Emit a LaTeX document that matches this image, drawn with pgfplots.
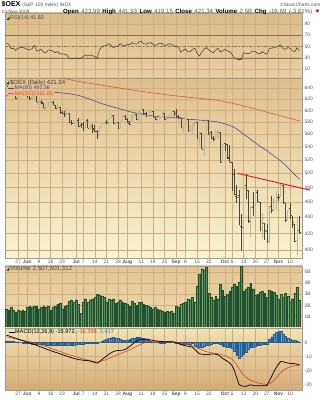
\documentclass[border=0pt]{standalone}
\usepackage{fontspec}
\setmainfont{Liberation Sans}
\usepackage{pgfplots}
\usepackage{pgfplotstable}
\pgfplotsset{compat=1.18}

\definecolor{rsitop}{HTML}{DCBC88}
\definecolor{rsibot}{HTML}{E8D0A2}
\definecolor{prtop}{HTML}{DFBF8B}
\definecolor{prbot}{HTML}{F8F3CE}
\definecolor{voltop}{HTML}{E3C591}
\definecolor{volbot}{HTML}{EEDBAE}
\definecolor{mactop}{HTML}{F1E2B2}
\definecolor{macbot}{HTML}{D6AB76}
\definecolor{gridc}{HTML}{CBB086}
\definecolor{bordc}{HTML}{9C9C9C}
\definecolor{labc}{HTML}{555555}
\definecolor{refc}{HTML}{8C7650}
\definecolor{rsibrown}{HTML}{8A4526}
\definecolor{barc}{HTML}{4A4A40}
\definecolor{barl}{HTML}{BDB795}
\definecolor{ma50c}{HTML}{4646A6}
\definecolor{ma200c}{HTML}{F04A3C}
\definecolor{trendc}{HTML}{E5102A}
\definecolor{volc}{HTML}{4F8D5C}
\definecolor{vold}{HTML}{25502F}
\definecolor{histc}{HTML}{4B93C9}
\definecolor{histd}{HTML}{2A5E8E}
\definecolor{sigc}{HTML}{E8321E}

\newcommand\tfont{\fontsize{4.9}{5.5}\selectfont}

\pgfdeclareplotmark{otick}{\pgfpathmoveto{\pgfqpoint{-1.3pt}{0pt}}\pgfpathlineto{\pgfqpoint{0pt}{0pt}}\pgfusepathqstroke}
\pgfdeclareplotmark{ctick}{\pgfpathmoveto{\pgfqpoint{0pt}{0pt}}\pgfpathlineto{\pgfqpoint{1.3pt}{0pt}}\pgfusepathqstroke}
\pgfdeclareplotmark{nothing}{}

\pgfplotstableread{
i o h l c u
0 644.2 651.0 642.6 644.8 1
1 643.9 643.9 636.9 638.9 0
2 639.2 641.4 627.7 628.6 0
3 628.6 632.4 628.4 630.3 1
4 629.3 629.3 620.9 621.9 0
5 621.9 627.1 620.6 626.2 1
6 626.7 628.7 623.0 628.6 1
7 628.6 635.6 627.6 632.0 1
8 632.1 634.8 631.9 633.0 1
9 632.3 632.3 622.8 626.3 0
10 626.7 629.7 619.3 622.7 0
11 622.1 627.5 620.0 622.5 1
12 622.6 635.1 620.7 634.7 1
13 632.8 632.8 614.7 615.0 0
14 615.1 619.5 610.5 615.5 1
15 614.3 617.8 610.9 614.0 0
16 613.4 613.4 603.6 603.6 0
17 603.8 611.6 601.7 605.6 1
18 606.5 614.7 606.4 614.7 1
19 614.2 616.8 611.1 614.8 1
20 615.0 617.7 610.4 610.6 0
21 610.0 610.0 602.7 604.7 0
22 604.3 609.2 601.3 606.9 1
23 606.1 606.1 594.2 595.7 0
24 596.5 598.4 594.5 595.7 0
25 595.4 599.4 589.6 594.1 0
26 594.2 603.7 594.2 597.5 1
27 595.0 595.0 580.0 580.0 0
28 580.2 582.9 574.9 577.8 0
29 577.7 583.2 576.3 578.6 1
30 578.3 582.2 571.1 582.1 1
31 583.8 586.7 572.7 572.7 0
32 574.6 578.3 569.7 574.6 0
33 575.9 580.9 565.8 571.0 0
34 572.1 582.3 568.0 582.1 1
35 583.2 585.0 570.0 570.1 0
36 571.0 576.7 567.1 574.7 1
37 573.2 577.1 562.5 568.9 0
38 570.5 576.0 562.9 564.4 0
39 564.3 567.8 552.2 558.9 0
40 558.8 572.9 557.2 572.9 1
41 573.3 580.7 571.0 579.7 1
42 578.8 580.6 575.8 579.9 1
43 580.4 583.1 577.6 579.6 0
44 578.3 587.6 574.4 587.4 1
45 588.3 594.0 587.0 589.8 1
46 591.6 591.6 576.9 577.4 0
47 577.9 582.3 577.1 579.8 1
48 579.8 580.9 569.1 569.1 0
49 570.0 582.3 570.0 582.3 1
50 582.9 592.1 582.9 592.1 1
51 590.7 592.3 583.6 584.3 0
52 585.8 586.3 578.9 581.6 0
53 578.4 581.7 575.7 576.4 0
54 579.1 593.0 579.0 593.0 1
55 592.6 596.1 588.9 595.0 1
56 593.7 593.7 583.5 584.3 0
57 584.4 599.0 582.5 598.2 1
58 597.4 606.0 596.4 602.4 1
59 602.2 602.2 593.3 595.2 0
60 594.7 597.2 588.4 593.4 0
61 591.7 600.0 589.2 596.7 1
62 597.1 600.9 595.7 599.1 1
63 599.1 600.0 588.2 590.1 0
64 589.2 589.2 582.9 584.6 0
65 584.9 588.9 582.1 588.2 1
66 586.6 591.5 583.9 589.7 1
67 589.6 597.0 589.6 596.4 1
68 595.6 595.6 583.7 584.6 0
69 584.7 588.7 583.0 586.8 1
70 586.7 593.1 586.1 591.5 1
71 592.5 600.3 592.5 600.3 1
72 598.3 598.8 592.0 592.0 0
73 595.0 602.0 587.8 590.3 0
74 589.8 591.6 584.7 589.1 0
75 587.6 587.6 569.6 571.4 0
76 569.7 575.1 562.3 573.9 1
77 577.3 588.8 576.2 585.7 1
78 585.8 586.1 565.7 565.7 0
79 567.1 574.7 564.4 569.2 1
80 567.8 577.5 559.7 577.1 1
81 578.1 582.4 572.5 580.8 1
82 580.4 580.4 553.4 553.4 0
83 551.4 563.7 542.6 563.1 1
84 561.6 561.6 536.3 536.6 0
85 536.9 561.9 525.9 559.8 1
86 562.9 587.0 562.9 582.4 1
87 582.5 582.5 559.4 560.1 0
88 562.7 566.0 553.5 553.7 0
89 554.0 558.0 549.8 552.6 0
90 553.6 568.5 553.6 563.5 1
91 561.3 566.6 553.4 565.4 1
92 563.4 563.4 515.6 515.6 0
93 519.0 544.3 519.0 543.5 1
94 544.8 546.2 533.9 543.4 0
95 544.3 544.3 521.2 522.6 0
96 524.1 542.3 516.1 516.6 0
97 517.0 517.0 474.8 497.8 0
98 499.2 506.4 470.2 470.2 0
99 467.7 483.0 459.3 465.9 0
100 468.5 476.5 431.0 431.3 0
101 428.6 444.8 398.9 427.1 0
102 435.4 480.3 435.4 478.6 1
103 482.8 499.2 464.7 477.0 0
104 476.4 476.4 433.0 434.8 0
105 436.6 454.9 415.6 454.3 1
106 453.2 473.6 441.9 452.4 0
107 455.7 475.9 455.7 475.9 1
108 473.5 475.9 460.1 461.3 0
109 459.7 459.7 423.0 433.2 0
110 434.3 445.7 414.6 438.6 1
111 432.4 432.9 412.0 423.5 0
112 422.3 431.7 408.5 410.0 0
113 410.0 454.3 408.3 454.3 1
114 453.8 468.5 445.5 449.2 0
115 453.7 465.2 448.5 460.8 1
116 460.3 475.5 449.6 467.9 1
117 466.9 470.2 462.0 465.8 0
118 468.2 485.6 468.2 484.8 1
119 482.9 482.9 457.9 459.3 0
120 459.1 459.1 433.7 436.2 0
121 437.4 449.0 436.9 448.7 1
122 451.5 458.9 437.4 443.1 0
123 442.1 442.1 426.5 433.3 0
124 430.6 430.6 409.9 410.8 0
125 411.2 440.1 394.6 438.0 1
126 423.99 441.93 419.15 421.34 0
}\ohlc

\pgfplotstableread{
i v
0 626
6 630
13 633
20 633
27 630
31 627
36 620
41 612
47 605
53 598
59 593
64 590
70 588
75 587
78 585
82 584
86 582.5
90 581
92 579.5
95 576
97 573
99 569
101 563
104 555
106 549
109 541
112 534
115 526
118 518
120 512
122 505
124 498
126 491.4
}\maA

\pgfplotstableread{
i v
23.8 659.5
32 652
40 646.5
50 639.5
62 632
72 626.5
83 621.6
90 618.5
97 613
104 606
108 602
112 597
118 591
126 582
}\maB

\pgfplotstableread{
i r
0 56
1 54
2 46
3 47
4 43
5 47
6 48
7 49
8 47
9 45
10 44
11 46
12 52
13 42
14 43
15 45
16 40
17 39
18 44
19 43
20 42
21 39
22 41
23 37
24 37
25 36
26 35
27 29
28 28
29 28.5
30 29.5
31 28
32 29.5
33 32
34 35
35 33
36 35
37 34
38 32
39 29
40 44
41 49
42 51
43 52
44 55
45 52
46 48
47 50
48 51
49 55
50 52
51 51
52 54
53 53
54 57
55 55
56 54
57 58
58 59
59 55
60 54
61 56
62 57
63 54
64 52
65 54
66 56
67 55
68 51
69 53
70 55
71 54
72 51
73 50
74 49
75 40
76 43
77 46
78 40
79 41
80 45
81 47
82 38
83 33
84 40
85 45
86 48
87 44
88 41
89 39
90 44
91 47
92 40
93 43
94 45
95 42
96 41
97 36
98 30
99 28
100 26
101 27
102 39
103 38
104 37
105 39
106 42
107 41
108 38
109 37
110 41
111 38
112 36
113 46
114 47
115 48
116 49
117 51
118 53
119 46
120 45
121 48
122 47
123 42
124 41
125 48
126 41.82
}\rsi

\pgfplotstableread{
i v
0 1.7
1 1.6
2 1.8
3 1.6
4 1.4
5 1.6
6 1.5
7 1.6
8 1.5
9 1.8
10 1.9
11 1.8
12 1.9
13 1.9
14 1.7
15 1.8
16 1.9
17 1.8
18 1.9
19 1.6
20 1.8
21 1.9
22 2.1
23 2.2
24 1.7
25 1.9
26 2.0
27 2.4
28 2.5
29 2.3
30 2.5
31 2.1
32 1.3
33 2.3
34 2.6
35 2.3
36 2.5
37 2.6
38 2.7
39 3.0
40 2.9
41 2.8
42 2.7
43 2.3
44 2.6
45 2.5
46 2.6
47 2.2
48 2.3
49 2.5
50 2.3
51 2.2
52 2.1
53 1.9
54 2.4
55 2.2
56 2.0
57 2.3
58 2.3
59 2.1
60 2.0
61 1.9
62 1.8
63 1.7
64 1.8
65 1.7
66 1.6
67 1.5
68 1.4
69 1.5
70 1.4
71 1.5
72 1.3
73 1.9
74 1.8
75 2.1
76 2.2
77 2.3
78 2.6
79 2.5
80 2.7
81 2.3
82 3.7
83 4.8
84 5.3
85 5.2
86 5.4
87 3.1
88 2.7
89 2.5
90 2.8
91 2.6
92 3.9
93 3.4
94 2.8
95 3.0
96 3.3
97 3.6
98 3.9
99 3.7
100 4.1
101 5.5
102 3.3
103 3.5
104 3.6
105 4.0
106 3.5
107 2.9
108 3.0
109 3.2
110 3.3
111 3.1
112 2.7
113 3.4
114 3.3
115 3.2
116 2.9
117 2.6
118 3.0
119 2.7
120 3.1
121 2.8
122 2.3
123 2.6
124 3.1
125 3.6
126 2.51
}\vol

\pgfplotstableread{
i m s h
0 5.2 4.0 1.2
1 4.7 3.7 1.0
2 4.1 3.3 0.8
3 3.5 2.9 0.6
4 3.0 2.6 0.4
5 2.4 2.2 0.2
6 1.8 1.8 0.0
7 1.3 1.5 -0.2
8 0.8 1.1 -0.3
9 0.0 0.8 -0.8
10 -0.4 0.4 -0.8
11 -0.9 0.1 -1.0
12 -1.5 -0.3 -1.2
13 -2.1 -0.9 -1.2
14 -2.8 -1.4 -1.4
15 -3.4 -2.0 -1.4
16 -4.0 -2.5 -1.5
17 -4.7 -3.0 -1.7
18 -5.3 -3.6 -1.7
19 -5.9 -4.2 -1.7
20 -6.4 -4.8 -1.6
21 -7.0 -5.3 -1.7
22 -7.5 -5.9 -1.6
23 -8.1 -6.4 -1.7
24 -8.7 -7.0 -1.7
25 -9.2 -7.6 -1.6
26 -9.8 -8.2 -1.6
27 -10.4 -8.8 -1.6
28 -10.9 -9.3 -1.6
29 -11.4 -9.8 -1.6
30 -11.8 -10.3 -1.5
31 -12.3 -10.8 -1.5
32 -12.5 -11.3 -1.2
33 -12.7 -11.8 -0.9
34 -12.9 -12.2 -0.7
35 -13.0 -12.6 -0.4
36 -13.3 -13.0 -0.3
37 -13.8 -13.4 -0.4
38 -14.3 -13.8 -0.5
39 -14.8 -14.0 -0.8
40 -13.8 -13.8 0.0
41 -12.4 -13.3 0.9
42 -11.0 -12.8 1.8
43 -9.8 -12.2 2.4
44 -8.5 -11.5 3.0
45 -7.4 -10.8 3.4
46 -6.6 -10.1 3.5
47 -6.0 -9.4 3.4
48 -5.8 -8.7 2.9
49 -5.7 -8.0 2.3
50 -5.6 -7.3 1.7
51 -5.0 -6.7 1.7
52 -4.0 -6.0 2.0
53 -2.8 -5.2 2.4
54 -1.5 -4.4 2.9
55 -0.3 -3.6 3.3
56 0.9 -2.8 3.7
57 1.8 -2.0 3.8
58 2.1 -1.2 3.3
59 2.3 -0.5 2.8
60 2.4 0.1 2.3
61 2.2 0.5 1.7
62 1.8 0.8 1.0
63 1.4 1.0 0.4
64 1.1 1.0 0.1
65 0.9 1.0 -0.1
66 0.7 0.9 -0.2
67 0.6 0.8 -0.2
68 0.5 0.7 -0.2
69 0.5 0.6 -0.1
70 0.5 0.6 -0.1
71 0.5 0.5 0.0
72 0.3 0.4 -0.1
73 -0.2 0.2 -0.4
74 -0.8 -0.1 -0.7
75 -1.5 -0.5 -1.0
76 -2.0 -0.9 -1.1
77 -2.4 -1.3 -1.1
78 -2.7 -1.7 -1.0
79 -3.0 -2.1 -0.9
80 -3.3 -2.5 -0.8
81 -5.0 -3.0 -2.0
82 -6.6 -3.7 -2.9
83 -8.1 -4.6 -3.5
84 -8.4 -5.3 -3.1
85 -8.6 -6.0 -2.6
86 -8.8 -6.6 -2.2
87 -8.6 -7.0 -1.6
88 -8.3 -7.4 -0.9
89 -8.2 -7.6 -0.6
90 -8.5 -7.9 -0.6
91 -8.8 -8.1 -0.7
92 -10.0 -8.5 -1.5
93 -11.5 -9.0 -2.5
94 -12.5 -9.6 -2.9
95 -13.5 -10.3 -3.2
96 -14.5 -11.0 -3.5
97 -16.5 -12.1 -4.4
98 -20.0 -13.7 -6.3
99 -25.0 -16.0 -9.0
100 -30.0 -18.8 -11.2
101 -31.0 -21.2 -9.8
102 -31.3 -23.2 -8.1
103 -31.4 -24.8 -6.6
104 -30.8 -26.0 -4.8
105 -30.3 -26.9 -3.4
106 -30.6 -27.6 -3.0
107 -31.0 -28.3 -2.7
108 -31.0 -28.8 -2.2
109 -31.0 -29.2 -1.8
110 -31.0 -29.6 -1.4
111 -31.0 -29.9 -1.1
112 -31.0 -30.1 -0.9
113 -27.5 -29.6 2.1
114 -24.5 -28.6 4.1
115 -21.0 -27.1 6.1
116 -18.0 -25.3 7.3
117 -15.5 -23.3 7.8
118 -13.6 -21.4 7.8
119 -13.9 -20.0 6.1
120 -14.4 -18.9 4.5
121 -14.7 -18.1 3.4
122 -15.0 -17.5 2.5
123 -15.1 -17.0 1.9
124 -15.2 -16.7 1.5
125 -15.5 -16.5 1.0
126 -15.97 -16.40 0.42
}\macd

\pgfplotsset{
  panel/.style={
    scale only axis, width=297pt, xmin=-0.6, xmax=127.1,
    anchor=north west,
    axis line style={draw=bordc, line width=0.4pt},
    xtick={5,9,14,19,24,30,33,38,43,48,52,58,63,68,73,77,82,87,94,97,102,107,112,117,122},
    xticklabels={},
    xmajorgrids, ymajorgrids,
    grid style={draw=gridc, line width=0.35pt},
    major tick length=0pt,
    yticklabel pos=right,
    tick label style={font=\tfont, text=labc},
    yticklabel style={anchor=west, inner sep=0pt, xshift=2.5pt},
    xticklabel style={anchor=north, inner sep=0pt, yshift=-2pt},
  },
  dates/.style={xticklabels={27,\textbf{Jun},9,16,23,\textbf{Jul},7,14,21,28,\textbf{Aug},11,18,25,\textbf{Sep},8,15,22,\textbf{Oct},6,13,20,27,\textbf{Nov},10}},
}

\begin{document}
\begin{tikzpicture}[x=1pt,y=1pt]
\path[use as bounding box] (0,0) rectangle (322,400);
\fill[white] (0,0) rectangle (322,400);

% ---------- RSI ----------
\begin{axis}[panel, at={(5pt,387pt)}, height=65pt,
  ymin=-6, ymax=109.6, ytick={10,30,50,70,90}, yticklabels={10,30,50,70,90},
  axis background/.style={top color=rsitop, bottom color=rsibot}]
\addplot[fill=rsibrown, draw=none] table[x=i, y expr={min(\thisrow{r},30)}] {\rsi};
\addplot[refc, line width=0.5pt] coordinates {(-0.6,70) (127.1,70)};
\addplot[refc, line width=0.5pt] coordinates {(-0.6,30) (127.1,30)};
\addplot[refc, line width=0.4pt, dash dot] coordinates {(-0.6,50) (127.1,50)};
\addplot[black!80, line width=0.45pt] table[x=i,y=r] {\rsi};
\end{axis}

% ---------- Price ----------
\begin{axis}[panel, dates, at={(5pt,322pt)}, height=180pt,
  ymode=log, ymin=391, ymax=659.5, clip=false,
  ytick={400,420,440,460,480,500,520,540,560,580,600,620,640},
  yticklabels={400,420,440,460,480,500,520,540,560,580,600,620,640},
  axis background/.style={top color=prtop, bottom color=prbot}]
\addplot[ma200c, line width=0.55pt] table[x=i,y=v] {\maB};
\addplot[ma50c, line width=0.55pt] table[x=i,y=v] {\maA};
% up bars (light)
\addplot[only marks, mark=nothing, restrict expr to domain={\thisrow{u}}{0.5:1.5},
  error bars/.cd, y dir=plus, y explicit, error mark=none,
  error bar style={barl, line width=1.1pt}]
  table[x=i, y=l, y error expr=\thisrow{h}-\thisrow{l}] {\ohlc};
\addplot[only marks, mark=otick, restrict expr to domain={\thisrow{u}}{0.5:1.5}, mark options={barl, line width=0.5pt}] table[x=i,y=o] {\ohlc};
\addplot[only marks, mark=ctick, restrict expr to domain={\thisrow{u}}{0.5:1.5}, mark options={barl, line width=0.5pt}] table[x=i,y=c] {\ohlc};
% down bars (dark)
\addplot[only marks, mark=nothing, restrict expr to domain={\thisrow{u}}{-0.5:0.5},
  error bars/.cd, y dir=plus, y explicit, error mark=none,
  error bar style={barc, line width=0.6pt}]
  table[x=i, y=l, y error expr=\thisrow{h}-\thisrow{l}] {\ohlc};
\addplot[only marks, mark=otick, restrict expr to domain={\thisrow{u}}{-0.5:0.5}, mark options={barc, line width=0.5pt}] table[x=i,y=o] {\ohlc};
\addplot[only marks, mark=ctick, restrict expr to domain={\thisrow{u}}{-0.5:0.5}, mark options={barc, line width=0.5pt}] table[x=i,y=c] {\ohlc};
\addplot[trendc, line width=0.9pt] coordinates {(99.3,500) (130.5,476.1)};
\end{axis}

% ---------- Volume ----------
\begin{axis}[panel, at={(5pt,134pt)}, height=61.5pt,
  ymin=0, ymax=5.54, ytick={1,2,3,4,5}, yticklabels={1B,2B,3B,4B,5B},
  axis background/.style={top color=voltop, bottom color=volbot}]
\addplot[ybar, bar width=1.8pt, bar shift=0pt, fill=volc, draw=vold, line width=0.25pt] table[x=i,y=v] {\vol};
\end{axis}

% ---------- MACD ----------
\begin{axis}[panel, dates, at={(5pt,72pt)}, height=62pt,
  ymin=-34, ymax=10.3, ytick={-30,-20,-10,0}, yticklabels={-30,-20,-10,0},
  axis background/.style={top color=mactop, bottom color=macbot}]
\addplot[ybar, bar width=1.8pt, bar shift=0pt, fill=histc, draw=histd, line width=0.2pt] table[x=i,y=h] {\macd};
\addplot[sigc, line width=0.55pt] table[x=i,y=s] {\macd};
\addplot[black, line width=0.7pt] table[x=i,y=m] {\macd};
\end{axis}

% ---------- texts ----------
\node[anchor=base west, inner sep=0] at (1.5,393.5) {\fontsize{7}{8}\selectfont\bfseries \$OEX\ {\mdseries\fontsize{4.9}{5}\selectfont\color{labc}(S\&P 100 Index) INDX}};
\node[anchor=base east, inner sep=0, text=labc] at (320.5,393.5) {\fontsize{4.8}{5}\selectfont\textcopyright StockCharts.com};
\node[anchor=base west, inner sep=0, text=labc] at (1.5,386.6) {\fontsize{4.8}{5}\selectfont 14-Nov-2008};
\node[anchor=base west, inner sep=0] at (63,386.6) {\fontsize{6.1}{6.5}\selectfont\makebox[249pt][s]{\textbf{Open} {\color{labc}423.99} \textbf{High} {\color{labc}441.93} \textbf{Low} {\color{labc}419.15} \textbf{Close} {\color{labc}421.34} \textbf{Volume} {\color{labc}2.5B} \textbf{Chg} {\color{labc}-16.69 (-3.81\%)}}};
\fill[red] (315.3,390.3) -- (319.3,390.3) -- (317.3,387.3) -- cycle;

% RSI legend
\fill[green!35!black] (6.5,380) -- (9.3,383.4) -- (9.3,380) -- cycle;
\node[anchor=west, inner sep=0, text=black!70] at (10,381.7) {\fontsize{5.4}{6}\selectfont RSI(14) 41.82};

% price legend
\node[anchor=west, inner sep=0.4pt, fill=prtop, text=black!75] at (9.5,317.3) {\fontsize{6}{6.5}\selectfont \$OEX (Daily) 421.34};
\fill[green!35!black] (6.3,315.6) -- (8.8,318.8) -- (8.8,315.6) -- cycle;
\fill[prtop] (7.5,309.2) rectangle (51,314.2);
\draw[ma50c, line width=0.6pt] (8,311.7) -- (14,311.7);
\node[anchor=west, inner sep=0.3pt, text=ma50c] at (14.3,311.7) {\fontsize{5.3}{5.5}\selectfont MA(50) 491.36};
\fill[prtop] (7.5,303.8) rectangle (54,308.8);
\draw[ma200c, line width=0.6pt] (8,306.3) -- (14,306.3);
\node[anchor=west, inner sep=0.3pt, text=ma200c] at (14.3,306.3) {\fontsize{5.3}{5.5}\selectfont MA(200) 591.65};

% volume legend
\fill[green!35!black] (6.5,129.3) -- (9.3,132.7) -- (9.3,129.3) -- cycle;
\node[anchor=west, inner sep=0, text=black!70] at (10,131) {\fontsize{6.2}{6.5}\selectfont Volume 2,507,501,312};

% MACD legend
\draw[black, line width=0.6pt] (8.5,68) -- (14.5,68);
\node[anchor=west, inner sep=0] at (15,68) {\fontsize{5.6}{6}\selectfont MACD(12,26,9) -15.972, {\color{sigc}-16.399,} {\color{histc!80!black}0.417}};
\end{tikzpicture}
\end{document}
